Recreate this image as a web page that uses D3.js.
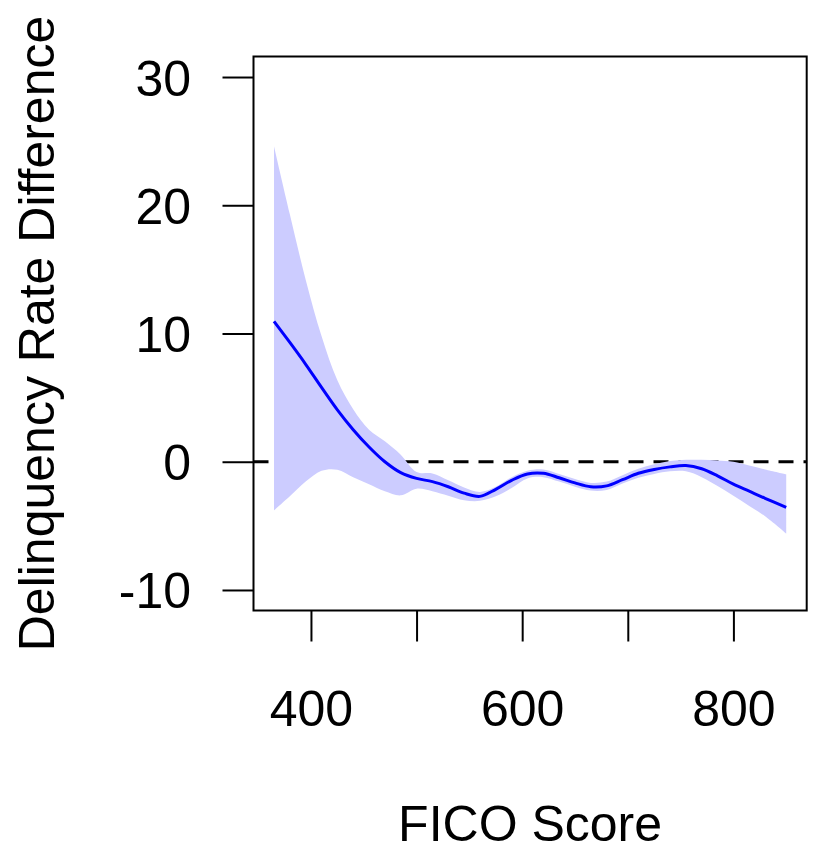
<!DOCTYPE html>
<html>
<head>
<meta charset="utf-8">
<script src="https://cdn.jsdelivr.net/npm/d3@7"></script>
<style>
  body { margin: 0; background: #fff; }
  svg { display: block; font-family: "Liberation Sans", Arial, Helvetica, sans-serif; }
</style>
</head>
<body>
<svg id="chart" width="813" height="848"></svg>
<script>
// FICO grid the smooth was read at
const fico = [365, 380, 395, 410, 425, 440, 455, 470, 485, 500, 515, 530, 545, 560, 575, 590,
              605, 620, 635, 650, 665, 680, 695, 710, 725, 740, 755, 770, 785, 800, 815, 830, 850];

// fitted difference
const fit = [10.95, 9.3, 7.6, 5.8, 4.05, 2.5, 1.15, 0.0, -0.85, -1.3, -1.55, -1.95, -2.45, -2.7, -2.15, -1.45,
             -0.95, -0.9, -1.25, -1.65, -1.95, -1.88, -1.4, -0.9, -0.6, -0.4, -0.3, -0.55, -1.1, -1.75, -2.3, -2.85, -3.55];

// confidence band
const upper = [24.6, 19.3, 14.2, 9.8, 6.35, 4.1, 2.5, 1.6, 0.55, -0.8, -0.92, -1.45, -2.0, -2.35, -1.95, -1.2,
               -0.7, -0.6, -0.95, -1.35, -1.65, -1.55, -1.05, -0.55, -0.2, 0.05, 0.15, 0.15, 0.1, 0.0, -0.3, -0.6, -0.98];
const lower = [-3.8, -2.7, -1.55, -0.7, -0.62, -1.2, -1.75, -2.3, -2.62, -2.1, -2.3, -2.65, -3.0, -3.05, -2.7, -2.05,
               -1.3, -1.2, -1.55, -1.95, -2.25, -2.2, -1.7, -1.25, -0.95, -0.75, -0.75, -1.2, -1.9, -2.65, -3.45, -4.25, -5.6];

const xTicks = [400, 500, 600, 700, 800];
const xLabels = [400, 600, 800];
const yTicks = [-10, 0, 10, 20, 30];
const yLim = [-10, 30];

const svg = d3.select('#chart');

const plotLeft = 253.5, plotRight = 806.7, plotTop = 56.5, plotBottom = 610.5;

// R-style 4% padding
const xExt = d3.extent(fico);
const xPad = (xExt[1] - xExt[0]) * 0.04;
const yPad = (yLim[1] - yLim[0]) * 0.04;

const x = d3.scaleLinear()
    .domain([xExt[0] - xPad, xExt[1] + xPad])
    .range([plotLeft, plotRight]);

const y = d3.scaleLinear()
    .domain([yLim[0] - yPad, yLim[1] + yPad])
    .range([plotBottom, plotTop]);

const rows = fico.map((f, i) => ({ f, fit: fit[i], lo: lower[i], hi: upper[i] }));

// zero reference line
svg.append('line')
    .attr('x1', plotLeft)
    .attr('x2', plotRight)
    .attr('y1', y(0))
    .attr('y2', y(0))
    .attr('stroke', '#000')
    .attr('stroke-width', 3)
    .attr('stroke-dasharray', '15,10');

// band
const area = d3.area()
    .x(d => x(d.f))
    .y0(d => y(d.lo))
    .y1(d => y(d.hi))
    .curve(d3.curveCatmullRom);

svg.append('path')
    .datum(rows)
    .attr('d', area)
    .attr('fill', '#ccccff');

// fitted line
const line = d3.line()
    .x(d => x(d.f))
    .y(d => y(d.fit))
    .curve(d3.curveCatmullRom);

svg.append('path')
    .datum(rows)
    .attr('d', line)
    .attr('fill', 'none')
    .attr('stroke', '#0000ff')
    .attr('stroke-width', 3);

// box
svg.append('rect')
    .attr('x', plotLeft)
    .attr('y', plotTop)
    .attr('width', plotRight - plotLeft)
    .attr('height', plotBottom - plotTop)
    .attr('fill', 'none')
    .attr('stroke', '#000')
    .attr('stroke-width', 2);

// axes
const xAxis = d3.axisBottom(x)
    .tickValues(xTicks)
    .tickSize(31)
    .tickSizeOuter(0)
    .tickPadding(49)
    .tickFormat(d => xLabels.includes(d) ? String(d) : '');

const gx = svg.append('g')
    .attr('transform', `translate(0, ${plotBottom})`)
    .call(xAxis);

const yAxis = d3.axisLeft(y)
    .tickValues(yTicks)
    .tickSize(31)
    .tickSizeOuter(0)
    .tickPadding(31.5)
    .tickFormat(d => String(d));

const gy = svg.append('g')
    .attr('transform', `translate(${plotLeft}, 0)`)
    .call(yAxis);

[gx, gy].forEach(g => {
    g.select('.domain').remove();
    g.selectAll('.tick line').attr('stroke', '#000').attr('stroke-width', 2);
    g.selectAll('.tick text')
        .attr('fill', '#000')
        .style('font-size', '50px')
        .style('font-family', '"Liberation Sans", Arial, sans-serif');
});
gy.selectAll('.tick text').attr('dy', '0.36em');

// labels
svg.append('text')
    .attr('x', (plotLeft + plotRight) / 2)
    .attr('y', 841)
    .attr('text-anchor', 'middle')
    .style('font-size', '50px')
    .text('FICO Score');

svg.append('text')
    .attr('transform', `translate(54, ${(plotTop + plotBottom) / 2}) rotate(-90)`)
    .attr('text-anchor', 'middle')
    .style('font-size', '50px')
    .text('Delinquency Rate Difference');
</script>
</body>
</html>
